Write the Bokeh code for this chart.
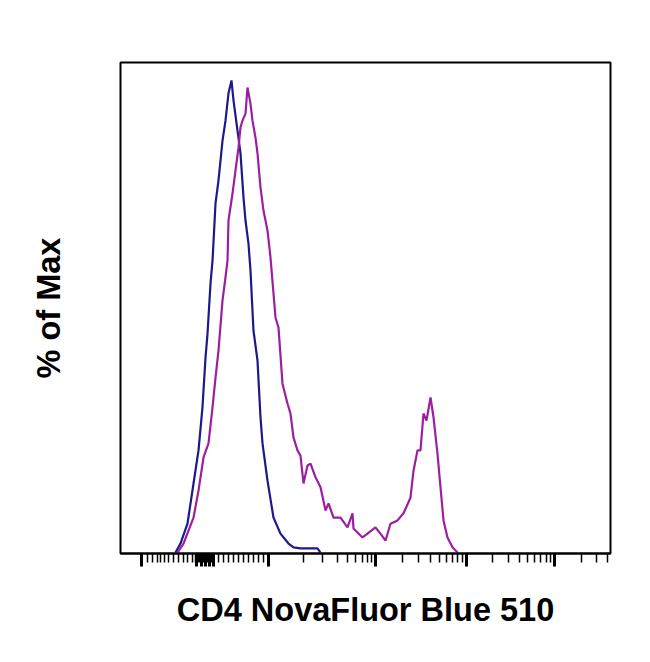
from bokeh.plotting import figure
from bokeh.models import FixedTicker, Range1d, CustomJSTickFormatter
from bokeh.embed import file_html
from bokeh.resources import INLINE

# x in display channel units (0-1000), y in % of max
blue_x = [112.2, 122.4, 136.7, 149.0, 159.2, 167.3, 173.5, 177.6, 183.7, 187.8, 193.9, 200.0,
          208.2, 214.3, 220.4, 226.5, 230.6, 238.8, 244.9, 251.0, 255.1, 261.2, 265.3, 271.4,
          279.6, 285.7, 289.8, 300.0, 312.2, 326.5, 342.9, 353.1, 367.3, 387.8, 402.0, 408.2]
blue_y = [0.2, 2.1, 6.3, 14.8, 21.8, 30.9, 41.4, 46.5, 57.1, 61.9, 74.0, 78.9,
          87.3, 91.5, 97.3, 100.0, 95.8, 89.4, 84.6, 75.3, 70.4, 65.5, 59.8, 47.1,
          40.8, 28.8, 23.3, 15.4, 7.6, 4.2, 2.1, 1.3, 1.1, 1.1, 1.1, 0.2]

mag_x = [116.3, 128.6, 149.0, 159.2, 169.4, 179.6, 187.8, 193.9, 200.0, 208.2, 214.3, 218.4,
         220.4, 228.6, 234.7, 240.8, 244.9, 249.0, 255.1, 259.2, 265.3, 269.4, 275.5, 279.6,
         285.7, 291.8, 300.0, 306.1, 316.3, 322.4, 330.6, 340.8, 346.9, 353.1, 361.2, 367.3,
         373.5, 381.6, 387.8, 398.0, 408.2, 418.4, 424.5, 434.7, 449.0, 463.3, 473.5, 475.5,
         493.9, 504.1, 520.4, 530.6, 540.8, 551.0, 565.3, 577.6, 591.8, 598.0, 606.1, 612.2,
         618.4, 624.5, 632.7, 638.8, 646.9, 653.1, 659.2, 667.3, 677.6, 687.8]
mag_y = [0.2, 2.1, 7.6, 13.3, 20.3, 23.3, 30.9, 37.2, 42.9, 53.5, 58.4, 61.9,
         70.4, 76.1, 81.0, 85.8, 90.1, 91.5, 93.0, 98.5, 95.1, 91.5, 87.9, 84.6,
         77.4, 72.5, 68.3, 62.6, 49.9, 47.8, 35.9, 31.7, 29.6, 24.5, 21.8, 20.7,
         14.8, 18.6, 19.0, 16.1, 14.0, 9.1, 10.6, 7.6, 7.6, 5.5, 8.5, 5.3,
         3.4, 4.2, 5.5, 4.2, 2.7, 6.3, 7.0, 8.5, 11.8, 17.5, 21.8, 21.8,
         29.6, 28.1, 33.0, 28.8, 21.1, 14.0, 7.0, 3.4, 1.3, 0.2]

major_ticks = [42.9, 156.0, 165.0, 173.5, 181.0, 189.0, 302.0, 520.4, 706.1, 885.7]
minor_ticks = [54.5, 64.7, 74.9, 81.6, 90.4, 98.6, 108.8, 119.0, 129.2, 137.3, 146.3,
               154, 156, 158, 160, 162, 164, 166, 168, 170, 172, 174, 176, 178, 180,
               182, 184, 186, 188, 190,
               200.0, 210.2, 220.4, 230.6, 240.8, 251.0, 261.2, 271.4, 281.6, 291.8,
               373.5, 412.2, 442.9, 463.3, 479.6, 493.9, 504.1, 512.2,
               576.3, 608.9, 632.2, 650.2, 664.9, 677.3, 688.2, 697.6,
               760.2, 791.8, 814.3, 831.6, 845.9, 857.9, 868.4, 877.6,
               939.8, 971.4, 993.9]

x_label = "CD4 NovaFluor Blue 510"
y_label = "% of Max"

p = figure(width=642, height=654, output_backend="svg", toolbar_location=None,
           x_range=Range1d(0, 1000), y_range=Range1d(0, 103.8),
           min_border_left=120, min_border_right=32, min_border_top=62, min_border_bottom=101)

p.line(blue_x, blue_y, line_color="#1a1a8a", line_width=2.2)
p.line(mag_x, mag_y, line_color="#9c1fa0", line_width=2.2)

p.grid.visible = False
p.outline_line_color = "black"
p.outline_line_width = 2

empty = CustomJSTickFormatter(code="return ''")

xa = p.xaxis[0]
xa.ticker = FixedTicker(ticks=major_ticks, minor_ticks=minor_ticks)
xa.formatter = empty
xa.axis_line_color = "black"
xa.axis_line_width = 2
xa.major_tick_in = 0
xa.major_tick_out = 13
xa.major_tick_line_width = 3
xa.minor_tick_in = 0
xa.minor_tick_out = 9
xa.minor_tick_line_width = 1.5
xa.major_label_standoff = 0
xa.axis_label = x_label
xa.axis_label_text_font = "Liberation Sans"
xa.axis_label_text_font_style = "bold"
xa.axis_label_text_font_size = "32.5px"
xa.axis_label_text_color = "black"
xa.axis_label_standoff = 25

ya = p.yaxis[0]
ya.ticker = FixedTicker(ticks=[])
ya.formatter = empty
ya.axis_line_color = None
ya.major_tick_line_color = None
ya.minor_tick_line_color = None
ya.axis_label = y_label
ya.axis_label_text_font = "Liberation Sans"
ya.axis_label_text_font_style = "bold"
ya.axis_label_text_font_size = "32.5px"
ya.axis_label_text_color = "black"
ya.axis_label_standoff = 54

open("out.html", "w").write(file_html(p, INLINE))
